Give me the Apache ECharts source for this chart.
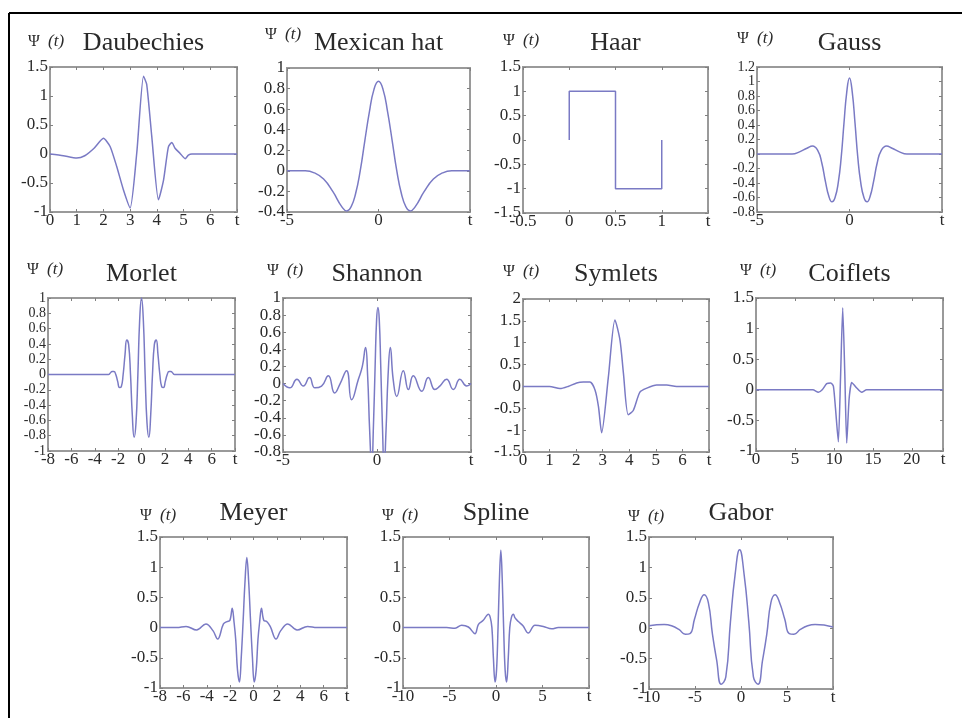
<!DOCTYPE html>
<html>
<head>
<meta charset="utf-8">
<script src="https://cdn.jsdelivr.net/npm/echarts@6/dist/echarts.min.js"></script>
<style>
html, body { margin: 0; padding: 0; background: #fff; }
#chart { width: 962px; height: 718px; }
</style>
</head>
<body>
<div id="chart"></div>
<script>
// wavelet samples: t and psi(t)
var daubT = [0, 0.5, 1, 1.3, 1.65, 2, 2.25, 2.5, 2.75, 3, 3.25, 3.5, 3.62, 3.81, 4.06, 4.25, 4.43, 4.56, 4.68, 4.87, 5.06, 5.18, 5.31, 6, 7];
var daubPsi = [0, -0.03, -0.07, -0.03, 0.1, 0.27, 0.13, -0.22, -0.62, -0.93, 0.03, 1.34, 1.2, 0.3, -0.79, -0.45, 0.12, 0.2, 0.1, 0.01, -0.08, -0.02, 0, 0, 0];

var mexT = [-5, -4, -3.5, -3, -2.5, -2, -1.73, -1.5, -1.25, -1, -0.75, -0.5, -0.25, 0, 0.25, 0.5, 0.75, 1, 1.25, 1.5, 1.73, 2, 2.5, 3, 3.5, 4, 5];
var mexPsi = [0, 0, -0.02, -0.08, -0.2, -0.35, -0.39, -0.35, -0.22, 0, 0.29, 0.57, 0.79, 0.87, 0.79, 0.57, 0.29, 0, -0.22, -0.35, -0.39, -0.35, -0.2, -0.08, -0.02, 0, 0];

var haarT = [0, 0, 0.5, 0.5, 1, 1];
var haarPsi = [0, 1, 1, -1, -1, 0];

var gaussT = [-5, -3.1, -2.7, -2.3, -2, -1.7, -1.5, -1.3, -1.12, -0.95, -0.78, -0.6, -0.45, -0.3, -0.15, 0, 0.15, 0.3, 0.45, 0.6, 0.78, 0.95, 1.12, 1.3, 1.5, 1.7, 2, 2.3, 2.7, 3.1, 5];
var gaussPsi = [0, 0, 0.03, 0.08, 0.11, 0.04, -0.12, -0.38, -0.58, -0.66, -0.6, -0.38, -0.05, 0.42, 0.85, 1.05, 0.85, 0.42, -0.05, -0.38, -0.6, -0.66, -0.58, -0.38, -0.12, 0.04, 0.11, 0.08, 0.03, 0, 0];

var morletT = [-8, -2.83, -2.67, -2.51, -2.36, -2.2, -2.04, -1.88, -1.73, -1.57, -1.41, -1.26, -1.1, -0.94, -0.79, -0.63, -0.47, -0.31, -0.16, 0,
    0.16, 0.31, 0.47, 0.63, 0.79, 0.94, 1.1, 1.26, 1.41, 1.57, 1.73, 1.88, 2.04, 2.2, 2.36, 2.51, 2.67, 2.83, 8];
var morletPsi = [0, 0, 0.02, 0.04, 0.04, 0, -0.09, -0.17, -0.16, 0, 0.26, 0.45, 0.39, 0, -0.52, -0.82, -0.63, 0, 0.7, 1,
    0.7, 0, -0.63, -0.82, -0.52, 0, 0.39, 0.45, 0.26, 0, -0.16, -0.17, -0.09, 0, 0.04, 0.04, 0.02, 0, 0];

var shannonT = [-5, -4.64, -4.26, -3.92, -3.59, -3.3, -2.95, -2.59, -2.25, -1.96, -1.62, -1.35, -0.99, -0.78, -0.61, -0.5, -0.39, -0.28, -0.19, -0.1,
    -0.02, 0.05, 0.12, 0.2, 0.29, 0.38, 0.48, 0.59, 0.71, 0.86, 1.05, 1.4, 1.67, 1.93, 2.38, 2.73, 3.08, 3.34, 3.7, 4.06, 4.41, 4.77, 5];
var shannonPsi = [0, -0.05, 0.05, -0.03, 0.07, -0.05, -0.03, 0.09, -0.11, 0, 0.15, -0.19, 0.05, 0.2, 0.42, 0.1, -0.55, -0.98, -0.5, 0.2,
    0.75, 0.89, 0.75, 0.2, -0.5, -0.98, -0.55, 0.1, 0.42, 0.05, -0.15, 0.15, -0.07, 0.09, -0.09, 0.07, -0.07, -0.03, 0.05, -0.07, 0.05, -0.03, 0];

var symT = [0, 1, 1.39, 1.7, 2.02, 2.27, 2.52, 2.71, 2.84, 2.96, 3.21, 3.46, 3.65, 3.78, 3.96, 4.15, 4.4, 4.66, 5.03, 5.41, 5.78, 7];
var symPsi = [0, 0, -0.05, 0, 0.08, 0.1, 0.1, -0.08, -0.46, -1.06, 0.2, 1.52, 1.06, 0.3, -0.65, -0.55, -0.13, -0.04, 0.03, 0.03, 0, 0];

var coifT = [0, 7.3, 8, 8.5, 9.07, 9.6, 9.93, 10.2, 10.57, 10.85, 11.13, 11.4, 11.64, 11.95, 12.28, 12.6, 12.93, 13.57, 14.2, 24];
var coifPsi = [0, 0, -0.04, 0, 0.1, 0.11, 0.06, -0.3, -0.85, 0.2, 1.34, 0.25, -0.87, -0.15, 0.12, 0.08, 0.03, -0.04, 0, 0];

var meyerT = [-8, -6.57, -5.77, -4.87, -4.07, -3.47, -3.07, -2.57, -2.27, -2.02, -1.82, -1.67, -1.52, -1.37, -1.2, -1.05, -0.89, -0.73, -0.57, -0.41,
    -0.25, -0.09, 0.06, 0.23, 0.38, 0.53, 0.68, 0.88, 1.13, 1.43, 1.93, 2.33, 2.93, 3.73, 4.63, 5.43, 8];
var meyerPsi = [0, 0, 0.02, -0.04, 0.06, -0.05, -0.19, 0.06, 0.1, 0.12, 0.32, 0.1, -0.2, -0.7, -0.9, -0.5, 0.1, 0.75, 1.16, 0.75,
    0.1, -0.5, -0.9, -0.7, -0.2, 0.1, 0.32, 0.12, 0.1, 0.02, -0.19, -0.05, 0.06, -0.04, 0.02, 0, 0];

var splineT = [-10, -5.3, -4.4, -3.69, -2.97, -2.26, -1.9, -1.37, -1.05, -0.83, -0.62, -0.44, -0.28, -0.1, 0.06, 0.22, 0.37, 0.52, 0.67, 0.82,
    0.98, 1.14, 1.32, 1.48, 1.66, 1.87, 2.05, 2.4, 2.9, 3.47, 4.19, 5.09, 5.99, 6.7, 10];
var splinePsi = [0, 0, -0.01, 0.04, 0.01, -0.1, 0.05, 0.12, 0.19, 0.22, 0.17, 0, -0.5, -0.9, -0.7, 0, 0.8, 1.28, 0.8, 0,
    -0.7, -0.9, -0.5, 0, 0.17, 0.22, 0.16, 0.1, 0.03, -0.09, 0.04, 0.02, -0.02, 0, 0];

var gaborT = [-10, -8.35, -7.55, -6.75, -6.05, -5.55, -5.05, -4.5, -4, -3.55, -3.1, -2.65, -2.15, -1.65, -1.15, -0.65, -0.15,
    0.35, 0.85, 1.35, 1.85, 2.35, 2.8, 3.25, 3.7, 4.2, 4.75, 5.25, 5.75, 6.45, 7.25, 8.05, 10];
var gaborPsi = [0.04, 0.06, 0.04, -0.02, -0.1, -0.09, 0.15, 0.42, 0.55, 0.42, -0.1, -0.52, -0.92, -0.8, 0.1, 0.87, 1.29,
    0.87, 0.1, -0.8, -0.92, -0.52, -0.1, 0.42, 0.55, 0.42, 0.15, -0.09, -0.1, -0.02, 0.04, 0.06, 0.02];

// axis ranges: [min, max, interval]; the last x tick is labelled "t"
var panels = [
    {name: 'Daubechies', t: daubT, psi: daubPsi, x: [0, 7, 1], y: [-1, 1.5, 0.5], box: [50, 67, 187, 145], titleY: 43, psiAt: [28, 42], smooth: 0.2},
    {name: 'Mexican hat', t: mexT, psi: mexPsi, x: [-5, 5, 5], y: [-0.4, 1, 0.2], box: [287, 68, 183, 144], titleY: 43, psiAt: [265, 35], smooth: 0.5},
    {name: 'Haar', t: haarT, psi: haarPsi, x: [-0.5, 1.5, 0.5], y: [-1.5, 1.5, 0.5], box: [523, 67, 185, 146], titleY: 43, psiAt: [503, 41], smooth: false},
    {name: 'Gauss', t: gaussT, psi: gaussPsi, x: [-5, 5, 5], y: [-0.8, 1.2, 0.2], box: [757, 67, 185, 145], titleY: 43, psiAt: [737, 39], smooth: 0.5, yLabelSize: 14},
    {name: 'Morlet', t: morletT, psi: morletPsi, x: [-8, 8, 2], y: [-1, 1, 0.2], box: [48, 298, 187, 153], titleY: 274, psiAt: [27, 270], smooth: 0.5, yLabelSize: 14},
    {name: 'Shannon', t: shannonT, psi: shannonPsi, x: [-5, 5, 5], y: [-0.8, 1, 0.2], box: [283, 298, 188, 154], titleY: 274, psiAt: [267, 271], smooth: 0.5},
    {name: 'Symlets', t: symT, psi: symPsi, x: [0, 7, 1], y: [-1.5, 2, 0.5], box: [523, 299, 186, 153], titleY: 274, psiAt: [503, 272], smooth: 0.25},
    {name: 'Coiflets', t: coifT, psi: coifPsi, x: [0, 24, 5], y: [-1, 1.5, 0.5], box: [756, 298, 187, 153], titleY: 274, psiAt: [740, 271], smooth: 0.2},
    {name: 'Meyer', t: meyerT, psi: meyerPsi, x: [-8, 8, 2], y: [-1, 1.5, 0.5], box: [160, 537, 187, 151], titleY: 513, psiAt: [140, 516], smooth: 0.4},
    {name: 'Spline', t: splineT, psi: splinePsi, x: [-10, 10, 5], y: [-1, 1.5, 0.5], box: [403, 537, 186, 151], titleY: 513, psiAt: [382, 516], smooth: 0.4},
    {name: 'Gabor', t: gaborT, psi: gaborPsi, x: [-10, 10, 5], y: [-1, 1.5, 0.5], box: [649, 537, 184, 152], titleY: 513, psiAt: [628, 517], smooth: 0.5}
];

var serif = '"Liberation Serif", "Times New Roman", serif';
var boxColor = '#9a9a9a';
var textColor = '#2a2a2a';
var curveColor = '#7a7ac4';

function makeAxis(gridIndex, range, position, labelled, isX, fontSize) {
    var max = range[1];
    return {
        type: 'value',
        gridIndex: gridIndex,
        position: position,
        min: range[0],
        max: range[1],
        interval: range[2],
        axisLine: {show: false, onZero: false},
        splitLine: {show: false},
        axisTick: {show: true, inside: true, length: 3, lineStyle: {color: '#808080', width: 1}},
        axisLabel: labelled ? {
            show: true,
            margin: 2,
            hideOverlap: false,
            showMinLabel: true,
            showMaxLabel: true,
            fontFamily: serif,
            fontSize: fontSize,
            lineHeight: fontSize - 3,
            color: textColor,
            formatter: function (v) {
                if (isX && Math.abs(v - max) < 1e-9) {
                    return 't';
                }
                return String(+v.toFixed(2));
            }
        } : {show: false}
    };
}

var grids = [], xAxes = [], yAxes = [], series = [];
var graphics = [
    {type: 'line', shape: {x1: 9, y1: 13, x2: 962, y2: 13}, style: {stroke: '#000', lineWidth: 2}},
    {type: 'line', shape: {x1: 9, y1: 13, x2: 9, y2: 718}, style: {stroke: '#000', lineWidth: 2}}
];

panels.forEach(function (p, i) {
    grids.push({
        left: p.box[0], top: p.box[1], width: p.box[2], height: p.box[3],
        show: true, borderColor: boxColor, borderWidth: 2, backgroundColor: '#fff'
    });
    xAxes.push(makeAxis(i, p.x, 'bottom', true, true, 17));
    xAxes.push(makeAxis(i, p.x, 'top', false, true, 17));
    yAxes.push(makeAxis(i, p.y, 'left', true, false, p.yLabelSize || 17));
    yAxes.push(makeAxis(i, p.y, 'right', false, false, 17));

    var data = p.t.map(function (t, k) { return [t, p.psi[k]]; });
    series.push({
        type: 'line',
        name: p.name,
        xAxisIndex: 2 * i,
        yAxisIndex: 2 * i,
        data: data,
        showSymbol: false,
        smooth: p.smooth,
        clip: true,
        silent: true,
        lineStyle: {color: curveColor, width: 1.5}
    });

    graphics.push({
        type: 'text',
        style: {
            text: p.name, x: p.box[0] + p.box[2] / 2, y: p.titleY,
            align: 'center', verticalAlign: 'middle',
            font: '26px ' + serif, fill: textColor
        }
    });
    graphics.push({
        type: 'text',
        style: {
            text: 'Ψ', x: p.psiAt[0], y: p.psiAt[1],
            align: 'left', verticalAlign: 'middle',
            font: '16px ' + serif, fill: textColor
        }
    });
    graphics.push({
        type: 'text',
        style: {
            text: '(t)', x: p.psiAt[0] + 20, y: p.psiAt[1],
            align: 'left', verticalAlign: 'middle',
            font: 'italic 17px ' + serif, fill: textColor
        }
    });
});

var chart = echarts.init(document.getElementById('chart'));
chart.setOption({
    animation: false,
    backgroundColor: '#fff',
    grid: grids,
    xAxis: xAxes,
    yAxis: yAxes,
    series: series,
    graphic: graphics
});
window.onresize = function () {
    chart.resize();
};
</script>
</body>
</html>
